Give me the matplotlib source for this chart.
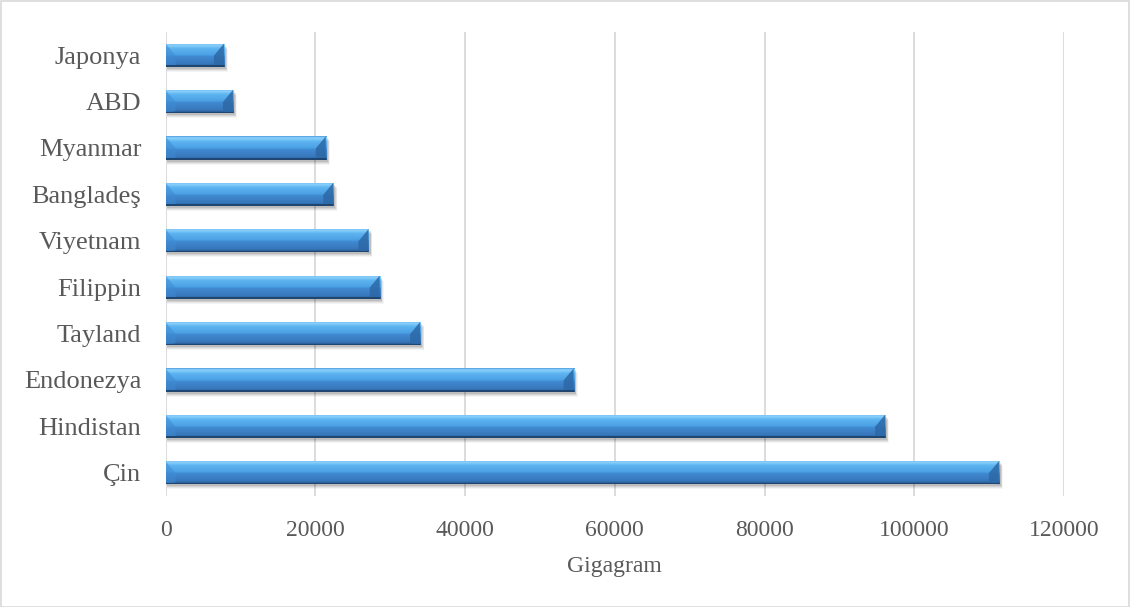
import matplotlib
matplotlib.use('Agg')
import matplotlib.pyplot as plt
import numpy as np
from matplotlib.colors import to_rgb
from matplotlib.patches import Polygon, Rectangle

plt.rcParams['font.family'] = ['Liberation Serif', 'DejaVu Serif']

# bottom to top, as in the chart
countries = ['Çin', 'Hindistan', 'Endonezya', 'Tayland', 'Filippin',
             'Viyetnam', 'Bangladeş', 'Myanmar', 'ABD', 'Japonya']
values = [111300, 96100, 54500, 34000, 28600, 27100, 22400, 21400, 9000, 7800]
xticks = [0, 20000, 40000, 60000, 80000, 100000, 120000]

TEXT = '#595959'
GRID = '#d9d9d9'

# vertical gradient of the bar face, top -> bottom
stops = [(0.00, '#4f9fe0'), (0.07, '#8fd3ff'), (0.22, '#5db4f0'),
         (0.50, '#4aa0e4'), (0.56, '#3f89d0'), (0.88, '#3877bb'),
         (1.00, '#234f80')]


def gradient(n=64):
    pos = np.linspace(0, 1, n)
    cols = np.array([to_rgb(c) for _, c in stops])
    p = [s for s, _ in stops]
    rgb = np.stack([np.interp(pos, p, cols[:, k]) for k in range(3)], axis=1)
    return rgb[:, None, :]


fig = plt.figure(figsize=(11.3, 6.07), dpi=100)
ax = fig.add_axes([0.1465, 0.1829, 0.7951, 0.7644])

height = 0.5
bars = ax.barh(countries, values, height=height, color='none', zorder=3)

px_x = 120000 / 898.5   # data units per pixel
px_y = 10 / 464.0
grad = gradient()

for b in bars:
    x0, y0 = b.get_x(), b.get_y()
    w, h = b.get_width(), b.get_height()
    x1, y1 = x0 + w, y0 + h

    # soft drop shadow
    for k, a in [(5, 0.04), (4, 0.06), (3, 0.08), (2, 0.1)]:
        ax.add_patch(Rectangle((x0 + px_x, y0 - k * px_y), w + k * px_x * 0.6, h,
                               color='black', alpha=a, lw=0, zorder=2))

    im = ax.imshow(grad, extent=(x0, x1, y0, y1), aspect='auto',
                   interpolation='bilinear', zorder=3, origin='upper')
    im.set_clip_path(b)

    bx = 10 * px_x
    by = 12 * px_y
    # bevelled ends
    ax.add_patch(Polygon([(x0, y1), (x0 + bx, y1 - by), (x0 + bx, y0 + 2 * px_y), (x0, y0)],
                         closed=True, color='#3f8ad2', alpha=0.55, lw=0, zorder=4))
    ax.add_patch(Polygon([(x1, y1), (x1 - bx, y1 - by), (x1 - bx, y0 + 2 * px_y), (x1, y0)],
                         closed=True, color='#2d68a6', alpha=0.85, lw=0, zorder=4))
    ax.add_patch(Rectangle((x0, y0), w, 1.5 * px_y, color='#1f4670', lw=0, zorder=4))

ax.set_xlim(0, 120000)
ax.set_ylim(-0.5, 9.5)
ax.set_xticks(xticks)
ax.set_xticklabels([str(t) for t in xticks])
ax.grid(axis='x', color=GRID, lw=1.3, zorder=0)
ax.set_axisbelow(True)
for s in ax.spines.values():
    s.set_visible(False)

ax.tick_params(axis='y', length=0, pad=17.5, labelsize=19, labelcolor=TEXT)
ax.tick_params(axis='x', length=0, pad=17, labelsize=17, labelcolor=TEXT)
ax.set_xlabel('Gigagram', fontsize=17, color=TEXT, labelpad=11)

fig.patches.append(Rectangle((0.5 / 1130, 0.5 / 607), 1 - 1.5 / 1130, 1 - 1.5 / 607,
                             transform=fig.transFigure, fill=False,
                             edgecolor=GRID, lw=1.2))

fig.savefig('out.png', dpi=100)
